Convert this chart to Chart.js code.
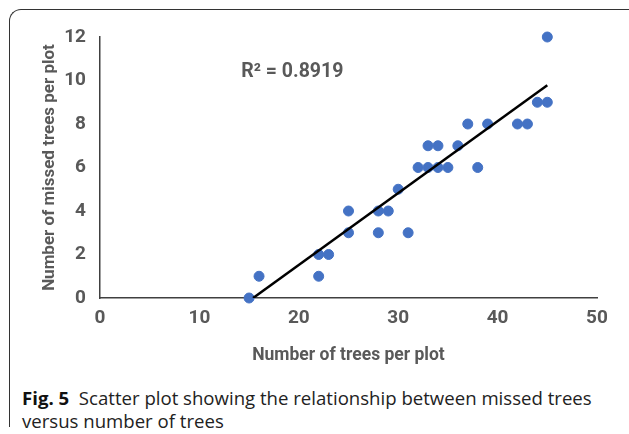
<!DOCTYPE html>
<html lang="en">
<head>
    <meta charset="UTF-8">
    <title>Missed trees vs number of trees</title>
    <script src="https://cdn.jsdelivr.net/npm/chart.js"></script>
    <style>
        body {
            margin: 0;
            background: #fff;
            width: 629px;
            height: 434px;
            overflow: hidden;
            position: relative;
        }
        .frame {
            position: absolute;
            left: 9px;
            top: 9px;
            width: 640px;
            height: 417px;
            border-left: 1.5px solid #333;
            border-top: 1.5px solid #333;
            border-top-left-radius: 12px;
        }
        .chart-box {
            position: absolute;
            left: 0;
            top: 0;
            width: 629px;
            height: 370px;
        }
        .caption {
            position: absolute;
            left: 22px;
            top: 386px;
            width: 600px;
            font-family: 'Open Sans', sans-serif;
            font-size: 18.6px;
            line-height: 23px;
            color: #222;
        }
        .caption b {
            color: #111;
        }
    </style>
</head>
<body>
    <div class="frame"></div>
    <div class="chart-box"><canvas id="scatter"></canvas></div>
    <div class="caption"><b>Fig. 5</b>&nbsp; Scatter plot showing the relationship between missed trees versus number of trees</div>

    <script>
        // Data
        const treesPerPlot = [15, 16, 22, 22, 23, 25, 25, 28, 28, 29, 30, 31, 32, 33, 33, 34, 34, 35, 36, 37, 38, 39, 42, 43, 44, 45, 45];
        const missedTrees  = [0, 1, 1, 2, 2, 4, 3, 4, 3, 4, 5, 3, 6, 7, 6, 7, 6, 6, 7, 8, 6, 8, 8, 8, 9, 9, 12];

        // Trend line end points as drawn in the figure
        const trendX = [15.4, 45];
        const trendY = [0, 9.78];

        const xTicks = [0, 10, 20, 30, 40, 50];
        const yTicks = [0, 2, 4, 6, 8, 10, 12];
        const r2Label = 'R² = 0.8919';

        const labelFont = "Roboto, sans-serif";
        const gray = '#595959';

        const points = treesPerPlot.map((x, i) => ({ x: x, y: missedTrees[i] }));
        const trend = trendX.map((x, i) => ({ x: x, y: trendY[i] }));

        // Writes the R² value inside the plot
        const r2Plugin = {
            id: 'r2',
            afterDraw(chart) {
                const ctx = chart.ctx;
                const x = chart.scales.x.getPixelForValue(14.2);
                const y = chart.scales.y.getPixelForValue(10.4);
                ctx.save();
                ctx.font = 'bold 19.5px ' + labelFont;
                ctx.fillStyle = gray;
                ctx.textAlign = 'left';
                ctx.textBaseline = 'middle';
                ctx.fillText(r2Label, x, y);
                ctx.restore();
            }
        };

        const axisFont = size => ({ family: labelFont, size: size, weight: 'bold' });

        new Chart(document.getElementById('scatter'), {
            type: 'scatter',
            data: {
                datasets: [
                    {
                        data: points,
                        backgroundColor: '#4472C4',
                        borderColor: '#4472C4',
                        pointRadius: 5,
                        clip: false,
                        order: 2
                    },
                    {
                        type: 'line',
                        data: trend,
                        borderColor: '#000',
                        borderWidth: 2.5,
                        pointRadius: 0,
                        fill: false,
                        order: 1
                    }
                ]
            },
            options: {
                responsive: true,
                maintainAspectRatio: false,
                animation: false,
                layout: { padding: { left: 36, right: 32, top: 37, bottom: 0 } },
                plugins: {
                    legend: { display: false },
                    tooltip: { enabled: false }
                },
                scales: {
                    x: {
                        type: 'linear',
                        min: 0,
                        max: 50,
                        afterBuildTicks: axis => { axis.ticks = xTicks.map(v => ({ value: v })); },
                        afterFit: axis => { axis.height = 72; },
                        grid: { display: false, drawTicks: false },
                        border: { display: true, color: '#404040', width: 1.5 },
                        ticks: { color: gray, padding: 9, font: axisFont(19) },
                        title: {
                            display: true,
                            text: 'Number of trees per plot',
                            color: gray,
                            padding: { top: 6 },
                            font: axisFont(17.5)
                        }
                    },
                    y: {
                        type: 'linear',
                        min: 0,
                        max: 12,
                        afterBuildTicks: axis => { axis.ticks = yTicks.map(v => ({ value: v })); },
                        afterFit: axis => { axis.width = 64; },
                        grid: { display: false, drawTicks: false },
                        border: { display: true, color: '#404040', width: 1.5 },
                        ticks: { color: gray, padding: 14, font: axisFont(19) },
                        title: {
                            display: true,
                            text: 'Number of missed trees per plot',
                            color: gray,
                            padding: { bottom: 0 },
                            font: axisFont(17)
                        }
                    }
                }
            },
            plugins: [r2Plugin]
        });
    </script>
</body>
</html>
